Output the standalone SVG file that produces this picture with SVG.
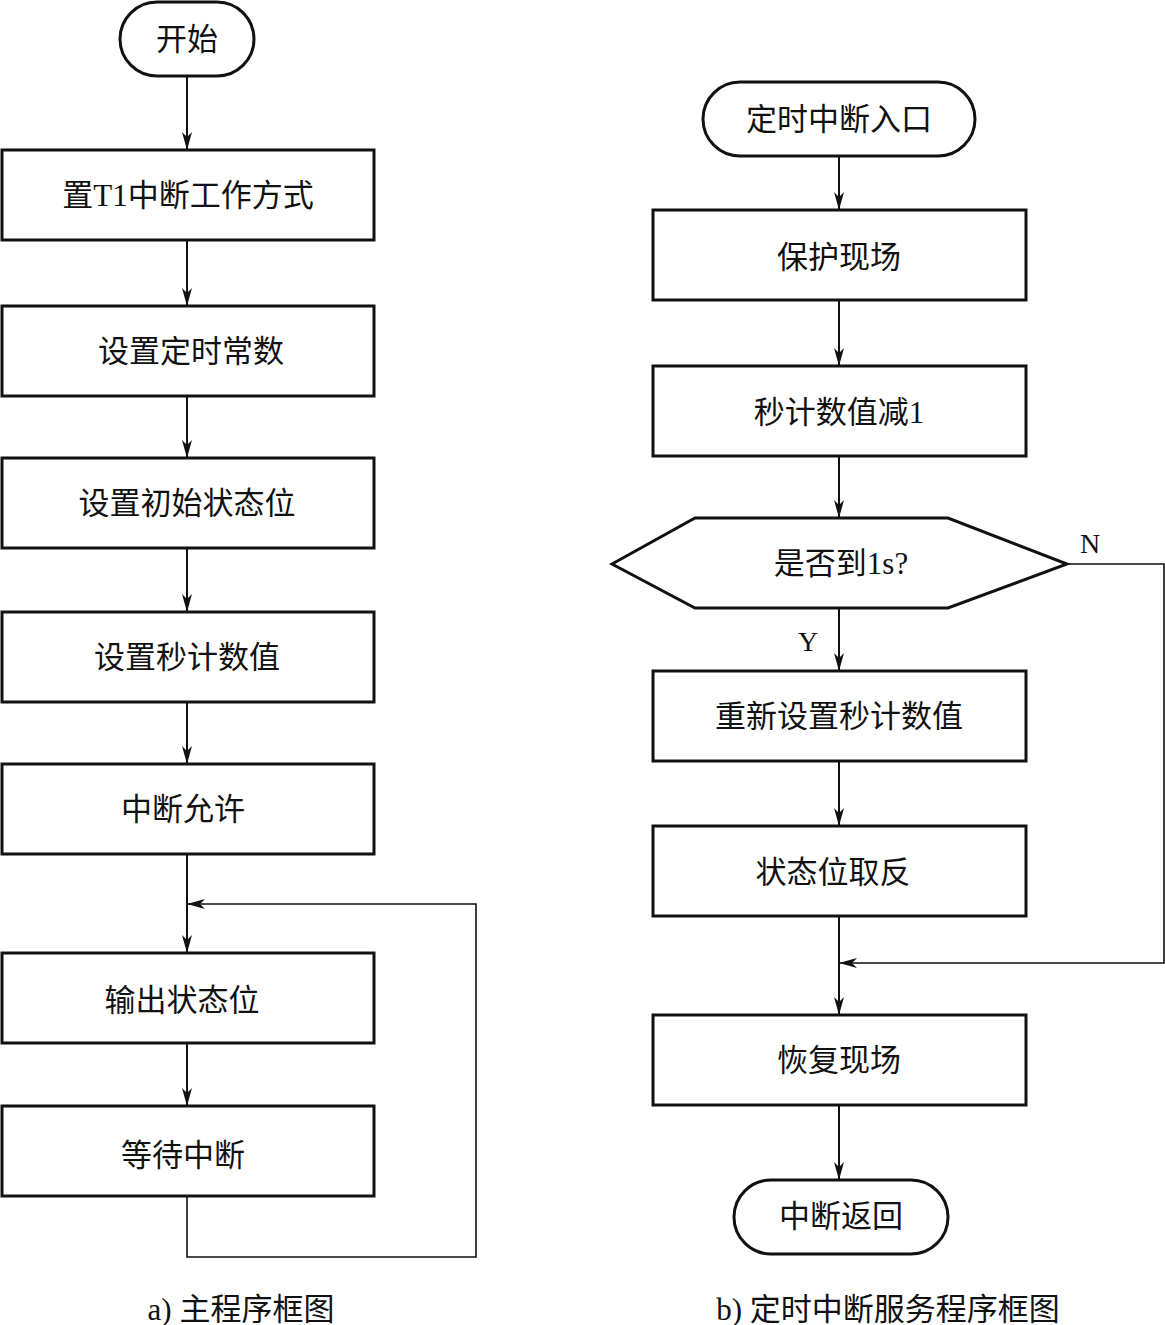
<svg xmlns="http://www.w3.org/2000/svg" width="1165" height="1325" viewBox="0 0 1165 1325">
<style>
.n{fill:#fff;stroke:#111;stroke-width:3}
.t{font-family:"Liberation Serif","Noto Sans CJK SC",serif;font-size:31px;fill:#111;text-anchor:middle;dominant-baseline:central}
.c{fill:none;stroke:#111;stroke-width:2}
.l{fill:none;stroke:#111;stroke-width:1.6}
.lab{font-family:"Liberation Serif","Noto Sans CJK SC",serif;font-size:28px;fill:#111;text-anchor:middle;dominant-baseline:central}
.cap{font-family:"Liberation Serif","Noto Sans CJK SC",serif;font-size:31px;fill:#111;text-anchor:middle;dominant-baseline:central}
</style>
<defs>
<marker id="a" viewBox="0 0 18 10" refX="18" refY="5" markerWidth="18" markerHeight="10" markerUnits="userSpaceOnUse" orient="auto">
<path d="M0,0 L18,5 L0,10 L5,5 Z" fill="#111"/>
</marker>
</defs>
<rect width="1165" height="1325" fill="#fff"/>
<g id="connectors">
<line class="c" x1="187" y1="76" x2="187" y2="150" marker-end="url(#a)"/>
<line class="c" x1="187" y1="240" x2="187" y2="306" marker-end="url(#a)"/>
<line class="c" x1="187" y1="396" x2="187" y2="458" marker-end="url(#a)"/>
<line class="c" x1="187" y1="548" x2="187" y2="612" marker-end="url(#a)"/>
<line class="c" x1="187" y1="702" x2="187" y2="764" marker-end="url(#a)"/>
<line class="c" x1="187" y1="854" x2="187" y2="953" marker-end="url(#a)"/>
<line class="c" x1="187" y1="1043" x2="187" y2="1106" marker-end="url(#a)"/>
<polyline class="l" points="187,1196 187,1257 476,1257 476,904 187,904" marker-end="url(#a)"/>
<line class="c" x1="839" y1="156" x2="839" y2="210" marker-end="url(#a)"/>
<line class="c" x1="839" y1="300" x2="839" y2="366" marker-end="url(#a)"/>
<line class="c" x1="839" y1="456" x2="839" y2="518" marker-end="url(#a)"/>
<line class="c" x1="839" y1="608" x2="839" y2="671" marker-end="url(#a)"/>
<line class="c" x1="839" y1="761" x2="839" y2="826" marker-end="url(#a)"/>
<line class="c" x1="839" y1="916" x2="839" y2="1015" marker-end="url(#a)"/>
<polyline class="l" points="1067,564 1164,564 1164,963 839,963" marker-end="url(#a)"/>
<line class="c" x1="839" y1="1105" x2="839" y2="1180" marker-end="url(#a)"/>
<text class="lab" x="808" y="641">Y</text>
<text class="lab" x="1090" y="543">N</text>
</g>
<g id="start"><rect class="n" x="120" y="2" width="134" height="74" rx="37"/><text class="t" x="187" y="39">开始</text></g>
<g id="b1"><rect class="n" x="2" y="150" width="372" height="90"/><text class="t" x="188" y="195">置T1中断工作方式</text></g>
<g id="b2"><rect class="n" x="2" y="306" width="372" height="90"/><text class="t" x="191" y="351">设置定时常数</text></g>
<g id="b3"><rect class="n" x="2" y="458" width="372" height="90"/><text class="t" x="187" y="503">设置初始状态位</text></g>
<g id="b4"><rect class="n" x="2" y="612" width="372" height="90"/><text class="t" x="187" y="657">设置秒计数值</text></g>
<g id="b5"><rect class="n" x="2" y="764" width="372" height="90"/><text class="t" x="183" y="809">中断允许</text></g>
<g id="b6"><rect class="n" x="2" y="953" width="372" height="90"/><text class="t" x="182" y="1000">输出状态位</text></g>
<g id="b7"><rect class="n" x="2" y="1106" width="372" height="90"/><text class="t" x="183" y="1155">等待中断</text></g>
<g id="entry"><rect class="n" x="703" y="82" width="272" height="74" rx="37"/><text class="t" x="839" y="119">定时中断入口</text></g>
<g id="r1"><rect class="n" x="653" y="210" width="373" height="90"/><text class="t" x="839" y="257">保护现场</text></g>
<g id="r2"><rect class="n" x="653" y="366" width="373" height="90"/><text class="t" x="839" y="412">秒计数值减1</text></g>
<g id="dec"><polygon class="n" points="612,564 695,518 948,518 1067,564 948,608 695,608"/><text class="t" x="841" y="563">是否到1s?</text></g>
<g id="r3"><rect class="n" x="653" y="671" width="373" height="90"/><text class="t" x="839" y="716">重新设置秒计数值</text></g>
<g id="r4"><rect class="n" x="653" y="826" width="373" height="90"/><text class="t" x="833" y="872">状态位取反</text></g>
<g id="r5"><rect class="n" x="653" y="1015" width="373" height="90"/><text class="t" x="839" y="1060">恢复现场</text></g>
<g id="end"><rect class="n" x="734" y="1180" width="214" height="74" rx="37"/><text class="t" x="841" y="1216">中断返回</text></g>
<text class="cap" x="241" y="1309">a) 主程序框图</text>
<text class="cap" x="888" y="1309">b) 定时中断服务程序框图</text>
</svg>
